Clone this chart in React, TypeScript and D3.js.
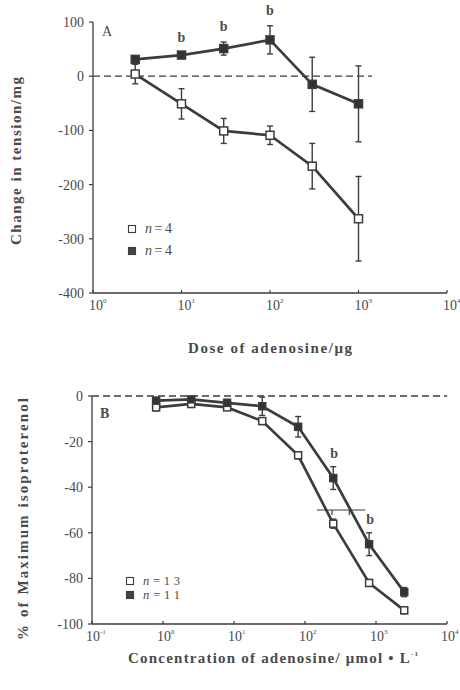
import React from 'react'
import * as d3 from 'd3'

// Panel A: dose (ug) vs change in tension (mg)
const doseA = [3, 10, 30, 100, 300, 1000]
const openA = [4, -51, -101, -109, -166, -263]
const openAErr = [18, 28, 23, 17, 42, 78]
const fillA = [31, 39, 51, 67, -15, -51]
const fillAErr = [6, 4, 12, 26, 50, 70]
const sigA = [1, 2, 3]
const yTicksA = [100, 0, -100, -200, -300, -400]
const xExpA = [0, 1, 2, 3, 4]
const legendA = ['n=4', 'n=4']

// Panel B: concentration (umol/L) vs % of maximum isoproterenol
const concB = [0.8, 2.5, 8, 25, 80, 250, 800, 2500]
const openB = [-5, -3.5, -5, -11, -26, -56, -82, -94]
const openBErr = [1.5, 1.5, 1, 1.5, 1.5, 2, 1.5, 1.5]
const fillB = [-2, -1.5, -3, -4.5, -13.5, -36, -65, -86]
const fillBErr = [1, 1, 1.5, 4, 4.5, 5, 5, 2]
const sigB = [5, 6]
const ic50B = [240, 420]
const yTicksB = [0, -20, -40, -60, -80, -100]
const xExpB = [-1, 0, 1, 2, 3, 4]
const legendB = ['n=13', 'n=11']

const ink = '#3c3c3c'
const txt = '#4a4a4a'
const font = '"Liberation Serif", "DejaVu Serif", serif'

function Series({x, y, xs, ys, errs, filled, size}) {
  const line = d3
    .line()
    .x(d => x(d[0]))
    .y(d => y(d[1]))
  const pts = xs.map((v, i) => [v, ys[i]])
  return (
    <g>
      <path d={line(pts)} fill="none" stroke={ink} strokeWidth={2.7} />
      {pts.map((p, i) => (
        <g key={i} stroke={ink} strokeWidth={1.4}>
          <line x1={x(p[0])} x2={x(p[0])} y1={y(p[1] + errs[i])} y2={y(p[1] - errs[i])} />
          <line x1={x(p[0]) - 3} x2={x(p[0]) + 3} y1={y(p[1] + errs[i])} y2={y(p[1] + errs[i])} />
          <line x1={x(p[0]) - 3} x2={x(p[0]) + 3} y1={y(p[1] - errs[i])} y2={y(p[1] - errs[i])} />
          <rect
            x={x(p[0]) - size / 2}
            y={y(p[1]) - size / 2}
            width={size}
            height={size}
            fill={filled ? '#333' : '#fff'}
            strokeWidth={1.5}
          />
        </g>
      ))}
    </g>
  )
}

function Axes({x, y, yTicks, xExps, left, right, top, bottom, shift}) {
  return (
    <g fontFamily={font} fill={txt}>
      <line x1={left} x2={left} y1={top} y2={bottom} stroke={ink} strokeWidth={1.3} />
      <line x1={left} x2={right} y1={bottom} y2={bottom} stroke={ink} strokeWidth={1.3} />
      {yTicks.map(t => (
        <g key={t}>
          <line x1={left - 4} x2={left} y1={y(t)} y2={y(t)} stroke={ink} strokeWidth={1.2} />
          <text x={left - 9} y={y(t) + 5} textAnchor="end" fontSize={14}>
            {t}
          </text>
        </g>
      ))}
      {xExps.map(e => (
        <g key={e}>
          <line x1={x(10 ** e)} x2={x(10 ** e)} y1={bottom - 3} y2={bottom} stroke={ink} strokeWidth={1.2} />
          <text x={x(10 ** e) - shift} y={bottom + 17} fontSize={14}>
            10
            <tspan dy={-7} fontSize={7}>
              {e}
            </tspan>
          </text>
        </g>
      ))}
    </g>
  )
}

function Legend({x, y, labels, gap, width, size}) {
  return (
    <g fontFamily={font} fill={txt} fontSize={size}>
      {labels.map((l, i) => (
        <g key={i}>
          <rect
            x={x - 3.5}
            y={y + i * gap - 3.5}
            width={7}
            height={7}
            fill={i === 0 ? '#fff' : '#444'}
            stroke={ink}
            strokeWidth={1.1}
          />
          <text x={x + 13} y={y + i * gap + 4} textLength={width} lengthAdjust="spacing">
            <tspan fontStyle="italic">n</tspan>
            {l.slice(1)}
          </text>
        </g>
      ))}
    </g>
  )
}

export default function App() {
  const xA = d3.scaleLog().domain([1, 1e4]).range([93, 447])
  const yA = d3.scaleLinear().domain([-400, 100]).range([293, 22])
  const xB = d3.scaleLog().domain([0.1, 1e4]).range([92, 447])
  const yB = d3.scaleLinear().domain([-100, 0]).range([624, 396])

  return (
    <svg width={460} height={690} style={{position: 'absolute', left: 0, top: 0, background: '#fff'}}>
      {/* Panel A */}
      <Axes x={xA} y={yA} yTicks={yTicksA} xExps={xExpA} left={93} right={447} top={22} bottom={293} shift={4} />
      <line x1={93} x2={372} y1={yA(0)} y2={yA(0)} stroke={ink} strokeWidth={1.3} strokeDasharray="7,4" />
      <Series x={xA} y={yA} xs={doseA} ys={openA} errs={openAErr} filled={false} size={8} />
      <Series x={xA} y={yA} xs={doseA} ys={fillA} errs={fillAErr} filled={true} size={8} />
      <g fontFamily={font} fill={txt} fontSize={14} fontWeight="bold" textAnchor="middle">
        {sigA.map(i => (
          <text key={i} x={xA(doseA[i])} y={yA(fillA[i] + fillAErr[i]) - 11}>
            b
          </text>
        ))}
      </g>
      <text x={102} y={36} fontFamily={font} fill={txt} fontSize={14}>
        A
      </text>
      <Legend x={132} y={229} labels={legendA} gap={22} width={27} size={14} />
      <text
        transform="translate(21,161) rotate(-90)"
        textAnchor="middle"
        fontFamily={font}
        fill={txt}
        fontSize={15}
        fontWeight="bold"
        textLength={168}
        lengthAdjust="spacing"
      >
        Change in tension/mg
      </text>
      <text
        x={270}
        y={353}
        textAnchor="middle"
        fontFamily={font}
        fill={txt}
        fontSize={15}
        fontWeight="bold"
        textLength={164}
        lengthAdjust="spacing"
      >
        Dose of adenosine/μg
      </text>

      {/* Panel B */}
      <Axes x={xB} y={yB} yTicks={yTicksB} xExps={xExpB} left={92} right={447} top={396} bottom={624} shift={6} />
      <line x1={92} x2={447} y1={yB(0)} y2={yB(0)} stroke={ink} strokeWidth={1.3} strokeDasharray="7,4" />
      <Series x={xB} y={yB} xs={concB} ys={openB} errs={openBErr} filled={false} size={7} />
      <Series x={xB} y={yB} xs={concB} ys={fillB} errs={fillBErr} filled={true} size={7} />
      <g stroke={ink} strokeWidth={1.2}>
        <line x1={xB(ic50B[0]) - 15} x2={xB(ic50B[1]) + 16} y1={yB(-50)} y2={yB(-50)} />
        {ic50B.map(c => (
          <line key={c} x1={xB(c)} x2={xB(c)} y1={yB(-50)} y2={yB(-50) + 5} />
        ))}
      </g>
      <g fontFamily={font} fill={txt} fontSize={14} fontWeight="bold" textAnchor="middle">
        {sigB.map(i => (
          <text key={i} x={xB(concB[i]) + 1} y={yB(fillB[i] + fillBErr[i]) - 9}>
            b
          </text>
        ))}
      </g>
      <text x={100} y={418} fontFamily={font} fill={txt} fontSize={14} fontWeight="bold">
        B
      </text>
      <Legend x={130} y={581} labels={legendB} gap={14} width={37} size={12.5} />
      <text
        transform="translate(28,519) rotate(-90)"
        textAnchor="middle"
        fontFamily={font}
        fill={txt}
        fontSize={15}
        fontWeight="bold"
        textLength={242}
        lengthAdjust="spacing"
      >
        % of Maximum isoproterenol
      </text>
      <text
        x={273}
        y={663}
        textAnchor="middle"
        fontFamily={font}
        fill={txt}
        fontSize={15}
        fontWeight="bold"
        textLength={290}
        lengthAdjust="spacing"
      >
        Concentration of adenosine/ μmol • L
        <tspan dy={-7} fontSize={7}>
          -1
        </tspan>
      </text>
    </svg>
  )
}
